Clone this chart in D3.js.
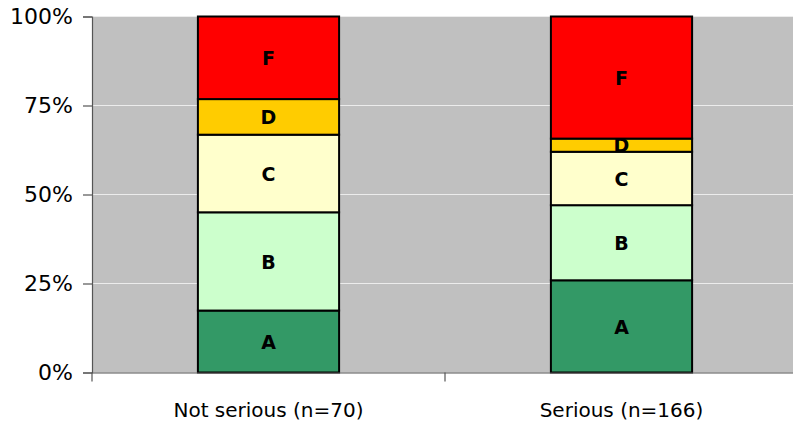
<!DOCTYPE html>
<html>
<head>
<meta charset="utf-8">
<script src="https://cdn.jsdelivr.net/npm/d3@7"></script>
<style>
  body { margin: 0; background: #ffffff; }
  svg { display: block; }
</style>
</head>
<body>
<div id="chart"></div>
<script>

// Data (percent of each group)
var categories = ["Not serious (n=70)", "Serious (n=166)"];
var grades = ["A", "B", "C", "D", "F"];
var gradeA = [17.4, 25.9];
var gradeB = [27.6, 21.1];
var gradeC = [21.8, 15.0];
var gradeD = [10.0, 3.7];
var gradeF = [23.2, 34.3];
var yTicks = [0, 25, 50, 75, 100];

var gradeColors = ["#339966", "#ccffcc", "#ffffcc", "#ffcc00", "#ff0000"];

// Create chart
function createChart(){

    var width = 793,
        height = 423;

    var margin = {top: 16.5, right: -5, bottom: 50.5, left: 92},
        plotWidth = width - margin.left - margin.right,
        plotHeight = height - margin.top - margin.bottom;

    var svg = d3.select("#chart").append("svg")
        .attr("width", width)
        .attr("height", height);

    var g = svg.append("g")
        .attr("transform", "translate(" + margin.left + "," + margin.top + ")");

    // Set scales
    var x = d3.scaleBand()
        .domain(categories)
        .range([0, plotWidth])
        .paddingInner(0.6)
        .paddingOuter(0.3);

    var xOuter = d3.scaleBand()
        .domain(categories)
        .range([0, plotWidth]);

    var y = d3.scaleLinear()
        .domain([0, 100])
        .range([plotHeight, 0]);

    var color = d3.scaleOrdinal()
        .domain(grades)
        .range(gradeColors);

    // Plot background
    g.append("rect")
        .attr("x", 0)
        .attr("y", 0)
        .attr("width", plotWidth)
        .attr("height", plotHeight)
        .style("fill", "#c0c0c0");

    // Gridlines
    g.selectAll(".grid")
        .data(yTicks.slice(1))
        .enter().append("line")
        .attr("class", "grid")
        .attr("x1", 0)
        .attr("x2", plotWidth)
        .attr("y1", function(d) { return y(d); })
        .attr("y2", function(d) { return y(d); })
        .style("stroke", "#ececec")
        .style("stroke-width", 1);

    // Stack the series
    var table = categories.map(function(c, i) {
        return {category: c, A: gradeA[i], B: gradeB[i], C: gradeC[i], D: gradeD[i], F: gradeF[i]};
    });

    var stacked = d3.stack().keys(grades)(table);

    var layer = g.selectAll(".layer")
        .data(stacked)
        .enter().append("g")
        .attr("class", "layer")
        .style("fill", function(d) { return color(d.key); });

    layer.selectAll("rect")
        .data(function(d) { return d; })
        .enter().append("rect")
        .attr("x", function(d) { return x(d.data.category); })
        .attr("y", function(d) { return y(d[1]); })
        .attr("width", x.bandwidth())
        .attr("height", function(d) { return y(d[0]) - y(d[1]); })
        .style("stroke", "#000000")
        .style("stroke-width", 2);

    // Segment labels
    layer.selectAll("text")
        .data(function(d) { return d.map(function(p) { p.key = d.key; return p; }); })
        .enter().append("text")
        .attr("x", function(d) { return x(d.data.category) + x.bandwidth() / 2; })
        .attr("y", function(d) { return (y(d[0]) + y(d[1])) / 2; })
        .attr("dy", "0.38em")
        .style("text-anchor", "middle")
        .style("font-family", "'DejaVu Sans', sans-serif")
        .style("font-weight", "bold")
        .style("font-size", "19px")
        .style("fill", "#000000")
        .text(function(d) { return d.key; });

    // Y axis
    var yAxis = d3.axisLeft(y)
        .tickValues(yTicks)
        .tickSize(9)
        .tickPadding(10)
        .tickFormat(function(d) { return d + "%"; });

    var yG = g.append("g")
        .attr("class", "y axis")
        .call(yAxis);

    // X axis, ticks sit on the category boundaries
    var xG = g.append("g")
        .attr("class", "x axis")
        .attr("transform", "translate(0," + plotHeight + ")")
        .call(d3.axisBottom(x).tickSize(0).tickPadding(30));

    xG.selectAll(".boundary")
        .data([0].concat(categories.map(function(c) { return xOuter(c) + xOuter.bandwidth(); })))
        .enter().append("line")
        .attr("class", "boundary")
        .attr("x1", function(d) { return d; })
        .attr("x2", function(d) { return d; })
        .attr("y1", 0)
        .attr("y2", 9);

    svg.selectAll(".axis path, .axis line")
        .style("stroke", "#555555")
        .style("stroke-width", 1.2);

    svg.selectAll(".axis path").style("fill", "none");

    yG.selectAll("text")
        .style("font-family", "'DejaVu Sans', sans-serif")
        .style("font-size", "22px")
        .style("fill", "#000000");

    xG.selectAll("text")
        .style("font-family", "'DejaVu Sans', sans-serif")
        .style("font-size", "20px")
        .style("fill", "#000000");
}

createChart();
</script>
</body>
</html>
